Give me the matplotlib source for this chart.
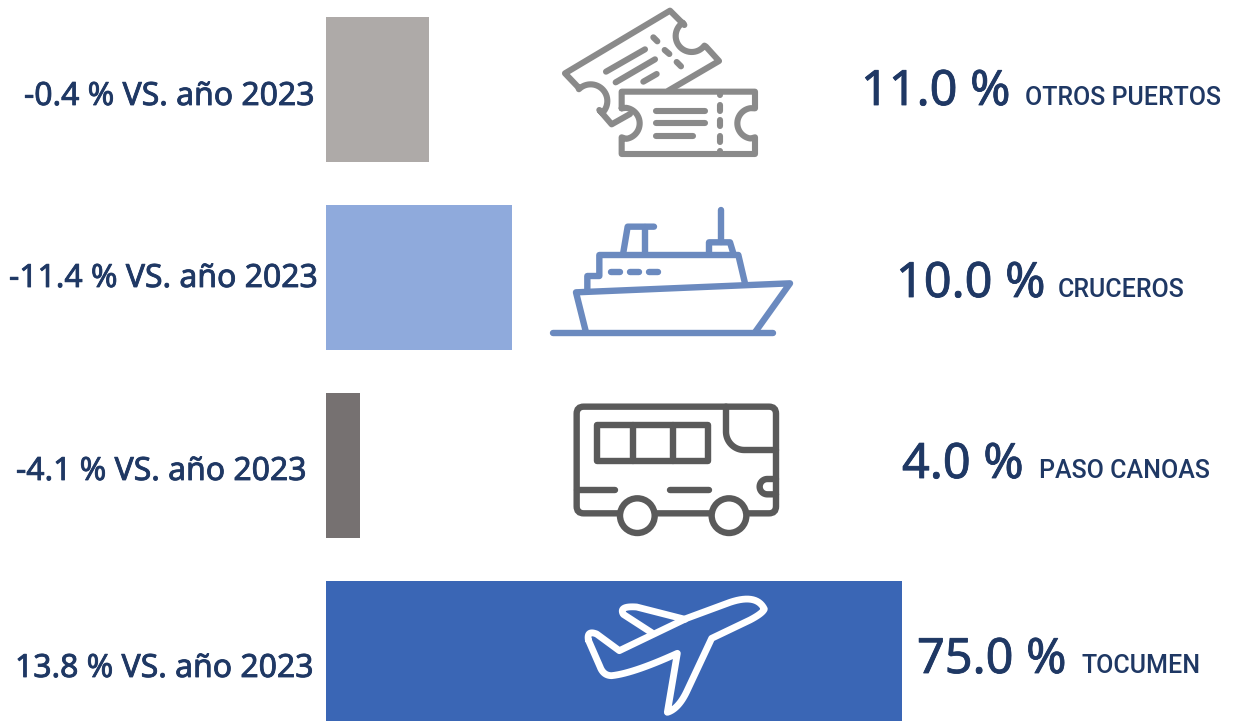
import numpy as np
import matplotlib
matplotlib.use("Agg")
import matplotlib.pyplot as plt
import matplotlib.patheffects as pe
from matplotlib.patches import FancyBboxPatch, Circle, Rectangle

# -----------------------------
# Data
# -----------------------------
categories = ["OTROS PUERTOS", "CRUCEROS", "PASO CANOAS", "TOCUMEN"]
shares = ["11.0 %", "10.0 %", "4.0 %", "75.0 %"]
changes = ["-0.4 % VS. año 2023", "-11.4 % VS. año 2023", "-4.1 % VS. año 2023", "13.8 % VS. año 2023"]
# drawn bar lengths (they are not proportional to the shares)
bar_lengths = [13.4, 24.2, 4.4, 75.0]
bar_colors = ["#aeaaa8", "#8faadc", "#767171", "#3a66b5"]

NAVY = "#1f3864"
FONT = "Noto Sans"
W, H = 1234, 721

fig = plt.figure(figsize=(W / 100, H / 100), dpi=100)

# -----------------------------
# Bars
# -----------------------------
ax = fig.add_axes([326 / W, 0, 576 / W, 1])
ax.barh(range(4), bar_lengths, height=145 / 188, color=bar_colors)
ax.set_xlim(0, 75)
ax.set_ylim((H - 89.5) / 188, -89.5 / 188)
ax.axis("off")

# -----------------------------
# Overlay in pixel coords for texts and icons
# -----------------------------
ov = fig.add_axes([0, 0, 1, 1], facecolor="none")
ov.set_xlim(0, W)
ov.set_ylim(H, 0)
ov.axis("off")

left_x = [24, 9, 16, 15]
left_y = [105, 287, 480, 677]
big_x = [861, 896, 902, 917]
big_y = [105, 297, 478, 673]
label_x = [1025, 1058, 1039, 1082]

# the source font is a bit heavier than Noto Sans regular
heavier = [pe.withStroke(linewidth=0.6, foreground=NAVY)]

for i in range(4):
    ov.text(left_x[i], left_y[i], changes[i], color=NAVY, fontsize=23, family=FONT, va="baseline", path_effects=heavier)
    ov.text(big_x[i], big_y[i], shares[i], color=NAVY, fontsize=35, family=FONT, va="baseline", path_effects=heavier)
    ov.text(label_x[i], big_y[i], categories[i], color=NAVY, fontsize=18, family="Roboto", weight=500, va="baseline")


# icon coordinates were measured on 3x crops, so they get scaled back here
def stroke(pts, ox, oy, color, lw=4.4, zorder=3):
    pts = np.asarray(pts, dtype=float)
    ov.plot(ox + pts[:, 0] / 3, oy + pts[:, 1] / 3, color=color, lw=lw,
            solid_capstyle="round", solid_joinstyle="round", zorder=zorder)


def arc(cx, cy, r, a0, a1, n=30):
    t = np.radians(np.linspace(a0, a1, n))
    return np.column_stack([cx + r * np.cos(t), cy + r * np.sin(t)])


def quad(p0, c, p1, n=16):
    t = np.linspace(0, 1, n)[:, None]
    return (1 - t) ** 2 * np.array(p0) + 2 * t * (1 - t) * np.array(c) + t ** 2 * np.array(p1)


# tickets
c = "#8a8a8a"
ox, oy = 540, 0
stroke(np.vstack([[[270, 342], [215, 373], [178, 330]], arc(152, 303, 50, 45, -135),
                  [[115, 262], [75, 220], [390, 32], [433, 75]], arc(455, 108, 48, 236, 37),
                  [[498, 140], [537, 183], [385, 272]]]), ox, oy, c)
for seg in [[(198, 215), (315, 148)], [(227, 247), (345, 178)], [(310, 245), (350, 222)],
            [(340, 112), (352, 124)], [(374, 150), (388, 162)], [(410, 186), (423, 199)]]:
    stroke(seg, ox, oy, c)
stroke(np.vstack([[[245, 325], [245, 275], [645, 275], [645, 325]], arc(638, 370, 46, 262, 98),
                  [[645, 412], [645, 462], [245, 462], [245, 412]], arc(252, 370, 47, 82, -82),
                  [[245, 325]]]), ox, oy, c)
for seg in [[(348, 332), (495, 332)], [(348, 370), (495, 370)], [(348, 408), (458, 408)],
            [(541, 315), (541, 333)], [(541, 361), (541, 379)], [(541, 408), (541, 426)],
            [(541, 275), (541, 284)], [(541, 453), (541, 462)]]:
    stroke(seg, ox, oy, c)

# ship
c = "#6b8abf"
ox, oy = 540, 195
for seg in [[(543, 45), (543, 140)],
            [(507, 172), (507, 142), (570, 142), (580, 175)],
            [(142, 285), (142, 243), (178, 243), (178, 180), (595, 180), (615, 265)],
            [(250, 172), (263, 95), (342, 95)], [(315, 95), (315, 178)],
            [(213, 231), (240, 231)], [(270, 231), (297, 231)], [(326, 231), (354, 231)],
            [(138, 412), (108, 292), (750, 265), (645, 412)],
            [(40, 415), (700, 415)]]:
    stroke(seg, ox, oy, c, lw=4.6)

# bus
c = "#5a5a5a"
ox, oy = 560, 395
ov.add_patch(FancyBboxPatch((ox + 50 / 3 + 7, oy + 35 / 3 + 7), 598 / 3 - 14, 320 / 3 - 14,
                            boxstyle="round,pad=7,rounding_size=7", fc="none", ec=c, lw=4.6, zorder=3))
ov.add_patch(Rectangle((ox + 112 / 3, oy + 90 / 3), 333 / 3, 108 / 3, fc="none", ec=c, lw=4.6,
                       joinstyle="round", zorder=3))
for seg in [[(218, 90), (218, 198)], [(340, 90), (340, 198)],
            [(50, 284), (165, 284)], [(330, 284), (447, 284)]]:
    stroke(seg, ox, oy, c, lw=4.6)
stroke(np.vstack([[[498, 35], [498, 110]], arc(553, 110, 55, 180, 90), [[648, 165]]]), ox, oy, c, lw=4.6)
stroke(np.vstack([[[648, 252]], arc(622, 275, 23, 270, 90), [[648, 298]]]), ox, oy, c, lw=4.6)
for wx in [232, 507]:
    ov.add_patch(Circle((ox + wx / 3, oy + 362 / 3), 52 / 3, fc="white", ec=c, lw=4.6, zorder=4))

# plane
c = "white"
ox, oy = 570, 585
outline = np.vstack([quad((55, 165), (50, 135), (80, 147)),
                     [[148, 197], [350, 100], [480, 52]],
                     quad((480, 52), (560, 25), (583, 72)),
                     quad((583, 72), (578, 85), (540, 105)),
                     [[425, 160]],
                     [[350, 320]],
                     quad((350, 320), (325, 372), (292, 382)),
                     [[322, 205]],
                     quad((322, 205), (190, 265), (125, 272)),
                     quad((125, 272), (100, 272), (90, 245)),
                     [[55, 165]]])
stroke(outline, ox, oy, c, lw=4.9)
stroke(np.vstack([[[245, 143]], quad((160, 88), (145, 62), (200, 66)), [[345, 103]]]), ox, oy, c, lw=4.9)

plt.savefig("out.png", dpi=100)
